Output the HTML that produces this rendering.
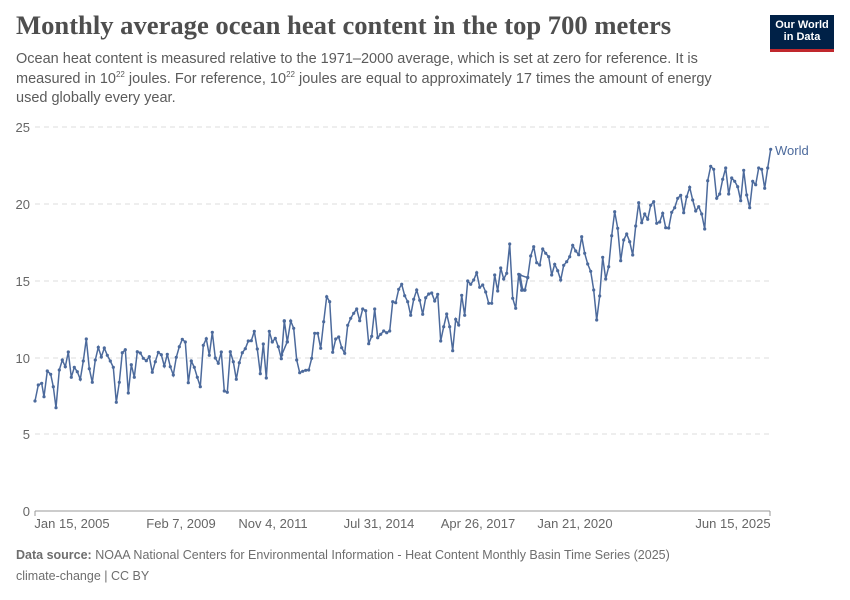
<!DOCTYPE html><html><head><meta charset="utf-8"><style>
body{margin:0;background:#fff;width:850px;height:600px;overflow:hidden;font-family:"Liberation Sans",sans-serif}
.t{position:absolute;left:16px;top:10px;font-family:"Liberation Serif",serif;font-weight:bold;font-size:26.6px;color:#4e4e4e}
.s{position:absolute;left:16px;top:50px;font-size:14.5px;line-height:19.5px;color:#5b5b5b;width:720px}
.s sup{font-size:8px;line-height:0;vertical-align:6px}
.logo{position:absolute;left:770px;top:15px;width:64px;height:37px;background:#002147;color:#fff;font-size:11px;font-weight:bold;line-height:12px;text-align:center;padding-top:4px;box-sizing:border-box;border-bottom:3px solid #c0282d}
.f{position:absolute;left:16px;font-size:12.5px;color:#6e6e6e}
</style></head><body>
<div class="t">Monthly average ocean heat content in the top 700 meters</div>
<div class="s">Ocean heat content is measured relative to the 1971–2000 average, which is set at zero for reference. It is measured in 10<sup>22</sup> joules. For reference, 10<sup>22</sup> joules are equal to approximately 17 times the amount of energy used globally every year.</div>
<div class="logo">Our World<br>in Data</div>
<svg width="850" height="600" style="position:absolute;left:0;top:0" font-family="Liberation Sans, sans-serif">
<g stroke="#ddd" stroke-dasharray="5,4">
<line x1="35" x2="770" y1="127" y2="127"/><line x1="35" x2="770" y1="204" y2="204"/><line x1="35" x2="770" y1="281" y2="281"/><line x1="35" x2="770" y1="358" y2="358"/><line x1="35" x2="770" y1="434" y2="434"/></g>
<line x1="35" x2="770" y1="511" y2="511" stroke="#999"/>
<g font-size="13" fill="#666" text-anchor="end"><text x="30" y="132">25</text><text x="30" y="209">20</text><text x="30" y="286">15</text><text x="30" y="363">10</text><text x="30" y="439">5</text><text x="30" y="516">0</text></g>
<g font-size="13" fill="#666" text-anchor="middle"><text x="72" y="528">Jan 15, 2005</text><text x="181" y="528">Feb 7, 2009</text><text x="273" y="528">Nov 4, 2011</text><text x="379" y="528">Jul 31, 2014</text><text x="478" y="528">Apr 26, 2017</text><text x="575" y="528">Jan 21, 2020</text><text x="733" y="528">Jun 15, 2025</text></g>
<g stroke="#999"><line x1="35" x2="35" y1="511" y2="516"/><line x1="770" x2="770" y1="511" y2="516"/></g>
<g id="g"></g>
<text x="775" y="155" font-size="13" fill="#4c6a9c">World</text>
</svg>
<div class="f" style="top:548px"><b>Data source:</b> NOAA National Centers for Environmental Information - Heat Content Monthly Basin Time Series (2025)</div>
<div class="f" style="top:569px">climate-change | CC BY</div>
<script>
var z1=[15,363,25,315,35,310,42,350,52,273,62,283,70,320,78,383,88,270,97,240,106,260,115,216,124,292,133,262,142,275,151,298,160,243,169,177,178,266,187,307,196,240,205,202,214,231,223,204,232,226,241,243,250,262,259,367,268,307,277,218,286,209,295,339,304,254,313,292,322,215,331,219,340,235,349,242,358,230,367,277,376,245,385,217,394,224,403,258,412,223,421,260,430,285,439,232,448,200,457,178,466,186,475,308,484,243,493,262,502,292,511,320,520,196,529,176,538,226,547,157,556,234,565,250,574,216,583,333,592,337,601,215,610,245,619,298,628,248,637,218,646,206,655,183,664,182,673,154,682,207,691,281,700,192,709,294,718,154,727,186,736,175,745,200,754,236,763,124,772,185];
var z2=[5,375,13,272,22,336,32,273,41,295,50,390,59,428,68,424,77,421,86,420,95,385,104,310,113,310,122,355,131,275,140,200,149,215,158,367,167,327,176,321,185,353,194,370,203,286,212,265,221,250,230,237,239,272,248,237,257,242,266,341,275,319,284,237,293,323,302,313,311,303,320,308,329,303,338,215,347,218,356,178,365,163,374,197,383,215,392,256,401,208,410,180,419,211,428,253,437,203,446,192,455,189,464,213,473,193,482,333,491,290,500,252,509,290,518,362,527,268,536,285,545,196,554,256,563,153,572,163,581,150,590,128,599,172,608,165,617,186,626,220,635,220,644,135,653,183,662,114,671,147,680,130,689,42,698,205,707,235,716,133,725,181,734,181,743,143];
var z3=[0,405,8,450,15,450,23,412,32,348,41,320,50,368,59,375,68,327,77,340,86,350,95,405,104,373,113,392,122,420,131,376,140,365,149,350,158,316,167,333,176,344,185,290,194,340,203,372,212,394,221,450,230,540,239,468,248,352,257,417,266,380,275,287,284,215,293,265,302,362,311,300,320,282,329,305,338,345,347,258,356,188,365,248,374,222,383,238,392,196,401,185,410,250,419,246,428,220,437,263,446,264,455,217,464,203,473,175,482,166,491,218,500,170,509,142,518,180,527,213,536,200,545,222,554,267,563,122,572,79,581,88,590,175,599,162,608,118,617,84,626,162,635,114,644,124,653,140,662,182,671,91,680,165,689,203,698,124,707,134,716,84,725,88,734,145,743,84,752,28];
var P=[];function add(a,ox,oy){for(var i=0;i<a.length;i+=2)P.push([ox+a[i]/3,oy+a[i+1]/3]);}
add(z1,30,280);add(z2,280,230);add(z3,520,140);
var s='<polyline fill="none" stroke="#4c6a9c" stroke-width="1.5" points="'+P.map(function(p){return p[0].toFixed(1)+','+p[1].toFixed(1)}).join(' ')+'"/>';
P.forEach(function(p){s+='<circle cx="'+p[0].toFixed(1)+'" cy="'+p[1].toFixed(1)+'" r="1.6" fill="#4c6a9c"/>';});
document.getElementById('g').innerHTML=s;
</script>
</body></html>
